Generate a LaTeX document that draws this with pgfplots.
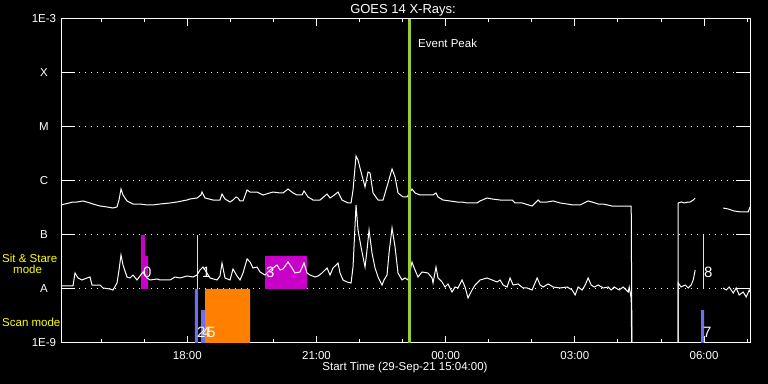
\documentclass[border=0pt]{standalone}
\usepackage{fontspec}
\setmainfont{Liberation Sans}
\usepackage{pgfplots}
\pgfplotsset{compat=1.18}
\definecolor{mag}{RGB}{200,0,200}
\definecolor{scanblue}{RGB}{110,110,245}
\definecolor{scanorange}{RGB}{255,128,0}
\definecolor{peak}{RGB}{154,205,50}
\definecolor{ylw}{RGB}{255,255,0}
\newcommand\tf{\fontsize{11.5bp}{13bp}\selectfont}
\newcommand\nf{\fontsize{15bp}{17bp}\selectfont}
\newcommand\ttl{\fontsize{13bp}{15bp}\selectfont}
\pgfplotsset{frame/.style={at={(61bp,41bp)}, anchor=south west, scale only axis,
  width=689bp, height=324bp, xmin=15.0667, xmax=31.0667, ymin=-9, ymax=-3,
  axis line style={white,line width=1bp}, tick style={white,line width=1bp}}}
\begin{document}
\begin{tikzpicture}
\fill[black] (0,0) rectangle (768bp,384bp);
\useasboundingbox (0,0) rectangle (768bp,384bp);
% y ticks, labels and dotted grid
\begin{axis}[frame, xtick=\empty,
  ytick={-9,-8,-7,-6,-5,-4,-3}, yticklabels={1E-9,A,B,C,M,X,1E-3},
  major tick length=14bp, ymajorgrids,
  major grid style={white, line width=1bp, dash pattern=on 1bp off 5bp},
  yticklabel style={font=\tf, text=white, anchor=center, xshift=-17bp}]
\end{axis}
% data axis (x = hours since 29-Sep-21 00:00, y = log10 flux in W/m^2)
\begin{axis}[frame, ytick=\empty,
  xtick={18,21,24,27,30}, xticklabels={18:00,21:00,00:00,03:00,06:00},
  minor xtick={16,17,19,20,22,23,25,26,28,29,31},
  major tick length=7bp, minor tick length=3.5bp,
  xticklabel style={font=\tf, text=white, anchor=base, yshift=-16.3bp}]
% Sit & Stare / Scan mode bars
\addplot[fill=mag, draw=none] coordinates {(16.925,-8) (16.925,-7) (17.017,-7) (17.017,-7.389) (17.087,-7.389) (17.087,-8) (16.925,-8)};
\addplot[fill=mag, draw=none] coordinates {(19.804,-8) (19.804,-7.389) (20.780,-7.389) (20.780,-8) (19.804,-8)};
\addplot[fill=scanblue, draw=none] coordinates {(18.178,-9) (18.178,-8) (18.248,-8) (18.248,-9) (18.178,-9)};
\addplot[fill=scanblue, draw=none] coordinates {(18.318,-9) (18.318,-8.389) (18.411,-8.389) (18.411,-9) (18.318,-9)};
\addplot[fill=scanorange, draw=none] coordinates {(18.411,-9) (18.411,-8) (19.456,-8) (19.456,-9) (18.411,-9)};
\addplot[fill=scanblue, draw=none] coordinates {(29.929,-9) (29.929,-8.389) (29.999,-8.389) (29.999,-9) (29.929,-9)};
\addplot[ylw, line width=1bp] coordinates {(18.237,-8) (18.237,-7)};
\addplot[ylw, line width=1bp] coordinates {(29.983,-8) (29.983,-7)};
% long channel (upper curve)
\addplot[white, line width=1bp] coordinates {
(15.067,-6.444) (15.345,-6.389) (15.438,-6.389) (15.578,-6.370) (15.740,-6.407) (15.810,-6.426)
(15.972,-6.463) (16.135,-6.481) (16.274,-6.500) (16.367,-6.481) (16.414,-6.352) (16.460,-6.148)
(16.507,-6.259) (16.599,-6.370) (16.739,-6.426) (16.901,-6.426) (17.064,-6.444) (17.203,-6.444)
(17.366,-6.426) (17.598,-6.407) (17.761,-6.389) (17.993,-6.352) (18.063,-6.333) (18.225,-6.315)
(18.318,-6.259) (18.341,-6.204) (18.411,-6.315) (18.597,-6.352) (18.759,-6.352) (18.806,-6.241)
(18.875,-6.333) (18.992,-6.389) (19.061,-6.352) (19.131,-6.296) (19.178,-6.315) (19.224,-6.370)
(19.294,-6.370) (19.387,-6.167) (19.456,-6.204) (19.619,-6.204) (19.758,-6.259) (19.990,-6.204)
(20.153,-6.222) (20.223,-6.222) (20.339,-6.148) (20.455,-6.222) (20.548,-6.259) (20.664,-6.259)
(20.710,-6.185) (20.804,-6.296) (20.920,-6.352) (21.082,-6.352) (21.245,-6.241) (21.314,-6.315)
(21.384,-6.278) (21.500,-6.204) (21.593,-6.352) (21.732,-6.407) (21.802,-6.407) (21.848,-6.167)
(21.918,-5.537) (21.964,-5.611) (22.034,-5.833) (22.127,-6.111) (22.197,-5.833) (22.243,-5.852)
(22.313,-6.222) (22.429,-6.352) (22.545,-6.352) (22.661,-6.037) (22.754,-5.778) (22.824,-5.926)
(22.893,-6.222) (23.009,-6.296) (23.102,-6.296) (23.218,-6.148) (23.288,-6.222) (23.404,-6.259)
(23.706,-6.259) (23.775,-6.222) (23.822,-6.296) (23.938,-6.352) (24.101,-6.370) (24.263,-6.389)
(24.380,-6.389) (24.496,-6.407) (24.728,-6.407) (24.798,-6.370) (24.960,-6.315) (25.077,-6.333)
(25.263,-6.352) (25.542,-6.352) (25.612,-6.407) (25.774,-6.407) (26.006,-6.463) (26.146,-6.352)
(26.193,-6.389) (26.356,-6.389) (26.495,-6.370) (26.658,-6.407) (26.820,-6.426) (26.960,-6.444)
(27.123,-6.444) (27.308,-6.370) (27.398,-6.389) (27.541,-6.426) (27.653,-6.426) (27.863,-6.463)
(28.308,-6.463) (28.331,-10) (29.399,-10) (29.399,-6.407) (29.469,-6.389) (29.539,-6.407)
(29.632,-6.389) (29.678,-6.389) (29.748,-6.352) (29.794,-6.315)};
\addplot[white, line width=1bp] coordinates {
(30.444,-6.500) (30.560,-6.519) (30.700,-6.556) (30.862,-6.574) (31.025,-6.574) (31.067,-6.481)};
% short channel (lower curve)
\addplot[white, line width=1bp] coordinates {
(15.067,-7.944) (15.345,-7.944) (15.392,-7.704) (15.461,-7.796) (15.554,-7.833) (15.671,-7.796)
(15.740,-7.778) (15.787,-7.926) (15.972,-7.926) (16.042,-7.981) (16.205,-8.000) (16.274,-8.019)
(16.367,-7.889) (16.414,-7.648) (16.460,-7.370) (16.507,-7.556) (16.599,-7.778) (16.669,-7.796)
(16.739,-7.741) (16.832,-7.833) (16.901,-7.759) (16.971,-7.685) (17.064,-7.796) (17.134,-7.833)
(17.296,-7.815) (17.366,-7.833) (17.598,-7.833) (17.714,-7.778) (17.830,-7.796) (17.993,-7.759)
(18.132,-7.778) (18.225,-7.741) (18.295,-7.648) (18.364,-7.593) (18.457,-7.704) (18.527,-7.796)
(18.690,-7.833) (18.759,-7.759) (18.806,-7.519) (18.875,-7.796) (18.992,-7.833) (19.061,-7.630)
(19.154,-7.759) (19.224,-7.833) (19.294,-7.704) (19.387,-7.444) (19.456,-7.500) (19.526,-7.611)
(19.619,-7.593) (19.688,-7.685) (19.804,-7.741) (19.921,-7.648) (20.083,-7.556) (20.153,-7.648)
(20.223,-7.630) (20.339,-7.500) (20.432,-7.611) (20.501,-7.704) (20.618,-7.685) (20.710,-7.519)
(20.780,-7.704) (20.850,-7.741) (20.966,-7.778) (21.036,-7.759) (21.128,-7.704) (21.245,-7.611)
(21.314,-7.741) (21.384,-7.611) (21.500,-7.519) (21.546,-7.704) (21.616,-7.833) (21.709,-7.870)
(21.802,-7.889) (21.848,-7.593) (21.918,-6.444) (21.964,-6.907) (22.034,-7.222) (22.127,-7.593)
(22.173,-7.278) (22.220,-6.907) (22.289,-7.333) (22.359,-7.611) (22.429,-7.778) (22.522,-7.926)
(22.568,-7.833) (22.638,-7.741) (22.684,-7.333) (22.754,-6.870) (22.824,-7.222) (22.893,-7.704)
(22.986,-7.833) (23.056,-7.796) (23.125,-7.833) (23.218,-7.500) (23.241,-7.556) (23.288,-7.648)
(23.357,-7.778) (23.450,-7.685) (23.590,-7.704) (23.683,-7.796) (23.706,-7.889) (23.775,-7.593)
(23.822,-7.796) (23.915,-7.870) (23.985,-7.963) (24.054,-7.907) (24.147,-8.056) (24.217,-7.963)
(24.287,-7.981) (24.380,-7.833) (24.449,-7.963) (24.519,-8.167) (24.612,-8.019) (24.682,-7.926)
(24.798,-7.833) (24.960,-7.796) (25.077,-7.833) (25.193,-7.870) (25.263,-7.833) (25.333,-7.926)
(25.425,-7.963) (25.495,-7.796) (25.565,-7.926) (25.681,-7.907) (25.797,-7.981) (25.890,-7.981)
(26.006,-8.019) (26.123,-7.796) (26.193,-7.926) (26.263,-7.963) (26.379,-7.907) (26.495,-7.963)
(26.658,-7.981) (26.820,-7.963) (26.937,-8.019) (27.006,-8.111) (27.076,-7.963) (27.169,-8.019)
(27.239,-7.926) (27.308,-7.796) (27.378,-7.926) (27.448,-7.963) (27.541,-7.926) (27.657,-7.981)
(27.773,-7.963) (27.843,-8.019) (27.913,-7.963) (28.029,-8.019) (28.122,-7.963) (28.238,-8.056)
(28.261,-7.963) (28.308,-8.167) (28.331,-10) (29.399,-10) (29.399,-7.889) (29.466,-7.963)
(29.562,-7.926) (29.632,-7.981) (29.701,-7.926) (29.748,-7.833) (29.794,-7.648)};
\addplot[white, line width=1bp] coordinates {
(30.444,-7.981) (30.514,-8.019) (30.584,-7.963) (30.677,-8.074) (30.746,-7.981) (30.816,-8.111)
(30.909,-8.056) (30.979,-8.148) (31.049,-8.019) (31.067,-8.056)};
% event peak
\addplot[peak, line width=3bp] coordinates {(23.148,-9) (23.148,-3)};
\node[white, font=\tf, anchor=base west, inner sep=0pt] at (axis cs:23.357,-3.519) {Event Peak};
% numbered markers
\node[white, font=\nf, anchor=base west, inner sep=0pt] at (axis cs:16.971,-7.796) {0};
\node[white, font=\nf, anchor=base west, inner sep=0pt] at (axis cs:18.341,-7.778) {1};
\node[white, font=\nf, anchor=base west, inner sep=0pt] at (axis cs:19.827,-7.778) {3};
\node[white, font=\nf, anchor=base west, inner sep=0pt] at (axis cs:29.999,-7.796) {8};
\node[white, font=\nf, anchor=base west, inner sep=0pt] at (axis cs:18.225,-8.907) {2};
\node[white, font=\nf, anchor=base west, inner sep=0pt] at (axis cs:18.341,-8.907) {4};
\node[white, font=\nf, anchor=base west, inner sep=0pt] at (axis cs:18.457,-8.907) {5};
\node[white, font=\nf, anchor=base west, inner sep=0pt] at (axis cs:29.976,-8.889) {7};
\end{axis}
\node[white, font=\ttl, anchor=base, inner sep=0pt] at (403bp,370bp) {GOES 14 X-Rays:};
\node[white, font=\tf, anchor=base, inner sep=0pt] at (405bp,13.5bp) {Start Time (29-Sep-21 15:04:00)};
\node[ylw, font=\tf, anchor=base west, inner sep=0pt] at (2bp,121bp) {Sit \& Stare};
\node[ylw, font=\tf, anchor=base west, inner sep=0pt] at (13bp,110bp) {mode};
\node[ylw, font=\tf, anchor=base west, inner sep=0pt] at (2bp,57bp) {Scan mode};
\end{tikzpicture}
\end{document}
